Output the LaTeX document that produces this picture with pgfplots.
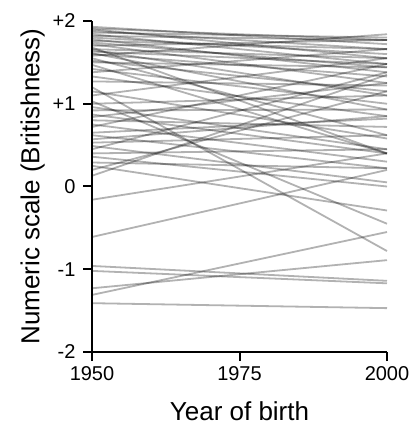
\documentclass[border=0pt]{standalone}
\usepackage{fontspec}
\setmainfont{Liberation Sans}
\usepackage{pgfplots}
\pgfplotsset{compat=1.18}
\tikzset{ln/.style={black, draw opacity=0.3, line width=1.8bp, mark=none}}
\begin{document}
\begin{tikzpicture}
\begin{axis}[
  at={(92bp,72bp)}, anchor=south west,
  scale only axis, width=295bp, height=331bp,
  xmin=1950, xmax=2000, ymin=-2, ymax=2,
  axis lines=left,
  axis line style={-, line width=2bp, black},
  tick style={line width=2bp, black},
  tick align=outside, major tick length=9bp,
  xtick={1950,1975,2000}, xticklabels={1950,1975,2000},
  ytick={-2,-1,0,1,2}, yticklabels={-2,-1,0,+1,+2},
  ticklabel style={font=\fontsize{20bp}{23bp}\selectfont, text=black},
  xticklabel style={yshift=-2bp},
  yticklabel style={xshift=-4bp},
  xlabel={Year of birth},
  ylabel={Numeric scale (Britishness)},
  label style={font=\fontsize{26bp}{30bp}\selectfont, text=black},
  xlabel style={at={(axis description cs:0.5,0)}, anchor=base, yshift=-68bp},
  ylabel style={at={(axis description cs:-0.178,0.5)}, anchor=base, rotate=0},
  clip=false,
]
\addplot[ln] coordinates {(1950,1.93) (2000,1.72)};
\addplot[ln] coordinates {(1950,1.91) (2000,1.77)};
\addplot[ln] coordinates {(1950,1.90) (2000,1.55)};
\addplot[ln] coordinates {(1950,1.88) (2000,1.66)};
\addplot[ln] coordinates {(1950,1.86) (2000,1.80)};
\addplot[ln] coordinates {(1950,1.84) (2000,1.48)};
\addplot[ln] coordinates {(1950,1.82) (2000,1.77)};
\addplot[ln] coordinates {(1950,1.80) (2000,1.60)};
\addplot[ln] coordinates {(1950,1.78) (2000,1.38)};
\addplot[ln] coordinates {(1950,1.76) (2000,1.66)};
\addplot[ln] coordinates {(1950,1.74) (2000,1.44)};
\addplot[ln] coordinates {(1950,1.72) (2000,1.25)};
\addplot[ln] coordinates {(1950,1.70) (2000,1.77)};
\addplot[ln] coordinates {(1950,1.68) (2000,0.40)};
\addplot[ln] coordinates {(1950,1.66) (2000,1.55)};
\addplot[ln] coordinates {(1950,1.65) (2000,1.10)};
\addplot[ln] coordinates {(1950,1.63) (2000,1.48)};
\addplot[ln] coordinates {(1950,1.61) (2000,0.93)};
\addplot[ln] coordinates {(1950,1.60) (2000,1.33)};
\addplot[ln] coordinates {(1950,1.58) (2000,1.84)};
\addplot[ln] coordinates {(1950,1.55) (2000,0.62)};
\addplot[ln] coordinates {(1950,1.52) (2000,1.15)};
\addplot[ln] coordinates {(1950,1.50) (2000,1.44)};
\addplot[ln] coordinates {(1950,1.47) (2000,0.40)};
\addplot[ln] coordinates {(1950,1.42) (2000,1.00)};
\addplot[ln] coordinates {(1950,1.38) (2000,1.66)};
\addplot[ln] coordinates {(1950,1.33) (2000,0.85)};
\addplot[ln] coordinates {(1950,1.27) (2000,1.22)};
\addplot[ln] coordinates {(1950,1.20) (2000,-0.78)};
\addplot[ln] coordinates {(1950,1.15) (2000,0.58)};
\addplot[ln] coordinates {(1950,1.10) (2000,1.55)};
\addplot[ln] coordinates {(1950,1.03) (2000,-0.45)};
\addplot[ln] coordinates {(1950,1.00) (2000,1.10)};
\addplot[ln] coordinates {(1950,0.96) (2000,0.45)};
\addplot[ln] coordinates {(1950,0.92) (2000,0.93)};
\addplot[ln] coordinates {(1950,0.87) (2000,0.40)};
\addplot[ln] coordinates {(1950,0.84) (2000,1.25)};
\addplot[ln] coordinates {(1950,0.80) (2000,0.72)};
\addplot[ln] coordinates {(1950,0.75) (2000,0.30)};
\addplot[ln] coordinates {(1950,0.72) (2000,1.48)};
\addplot[ln] coordinates {(1950,0.65) (2000,0.82)};
\addplot[ln] coordinates {(1950,0.62) (2000,0.22)};
\addplot[ln] coordinates {(1950,0.57) (2000,0.85)};
\addplot[ln] coordinates {(1950,0.53) (2000,0.62)};
\addplot[ln] coordinates {(1950,0.49) (2000,0.05)};
\addplot[ln] coordinates {(1950,0.45) (2000,1.38)};
\addplot[ln] coordinates {(1950,0.40) (2000,0.45)};
\addplot[ln] coordinates {(1950,0.36) (2000,0.00)};
\addplot[ln] coordinates {(1950,0.29) (2000,0.22)};
\addplot[ln] coordinates {(1950,0.25) (2000,-0.29)};
\addplot[ln] coordinates {(1950,0.20) (2000,1.15)};
\addplot[ln] coordinates {(1950,0.13) (2000,1.35)};
\addplot[ln] coordinates {(1950,-0.16) (2000,0.40)};
\addplot[ln] coordinates {(1950,-0.61) (2000,0.20)};
\addplot[ln] coordinates {(1950,-0.96) (2000,-1.14)};
\addplot[ln] coordinates {(1950,-1.02) (2000,-1.17)};
\addplot[ln] coordinates {(1950,-1.23) (2000,-0.89)};
\addplot[ln] coordinates {(1950,-1.31) (2000,-0.55)};
\addplot[ln] coordinates {(1950,-1.41) (2000,-1.47)};
\end{axis}
\pgfresetboundingbox
\path[use as bounding box] (0,0) rectangle (409bp,424bp);
\end{tikzpicture}
\end{document}
